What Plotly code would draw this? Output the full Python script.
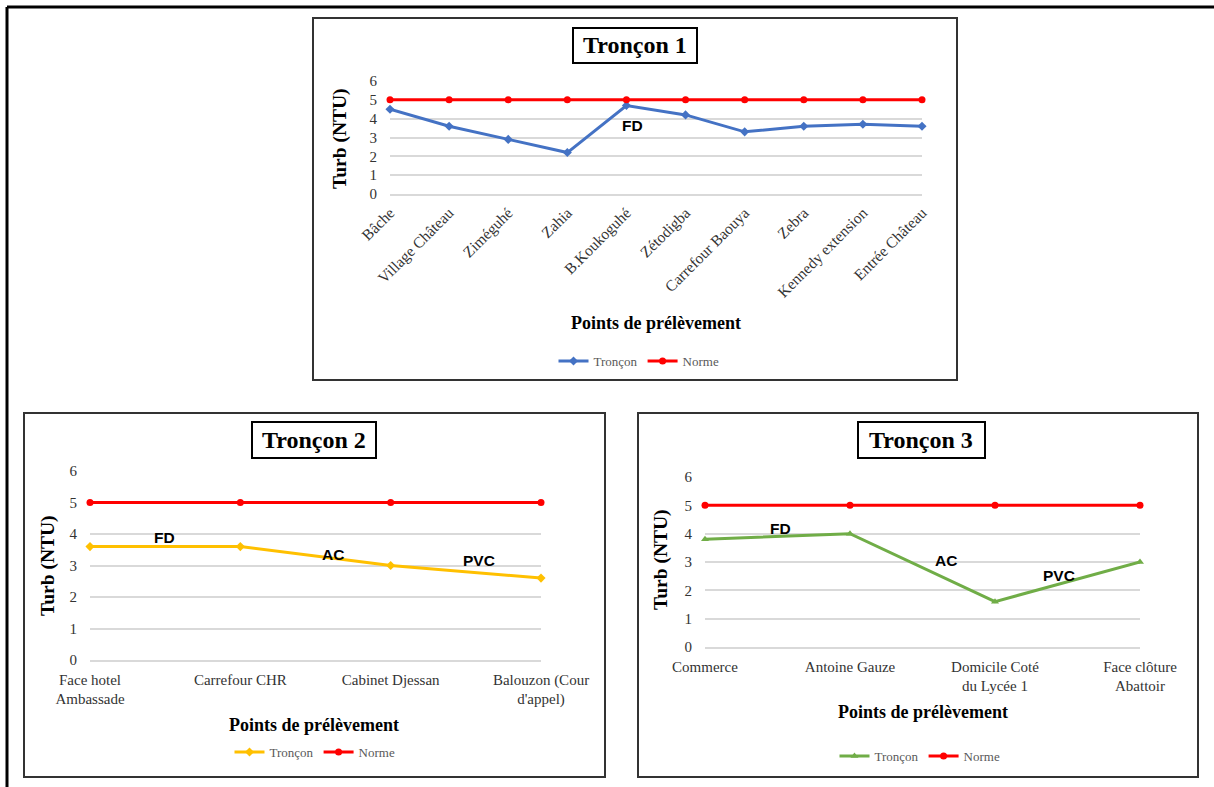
import plotly.graph_objects as go

W, H = 1214, 787

# ---------------- data ----------------
t1_points = ["Bâche", "Village Château", "Ziméguhé", "Zahia", "B.Koukoguhé",
             "Zétodigba", "Carrefour Baouya", "Zebra", "Kennedy extension", "Entrée Château"]
t1_turb = [4.5, 3.6, 2.9, 2.2, 4.7, 4.2, 3.3, 3.6, 3.7, 3.6]
t1_norme = [5, 5, 5, 5, 5, 5, 5, 5, 5, 5]

t2_points = ["Face hotel<br>Ambassade", "Carrefour CHR", "Cabinet Djessan", "Balouzon (Cour<br>d'appel)"]
t2_turb = [3.6, 3.6, 3.0, 2.6]
t2_norme = [5, 5, 5, 5]

t3_points = ["Commerce", "Antoine Gauze", "Domicile Coté<br>du Lycée 1", "Face clôture<br>Abattoir"]
t3_turb = [3.8, 4.0, 1.6, 3.0]
t3_norme = [5, 5, 5, 5]

y_ticks = [0, 1, 2, 3, 4, 5, 6]
titles = ["Tronçon 1", "Tronçon 2", "Tronçon 3"]
x_title = "Points de prélèvement"
y_title = "Turb (NTU)"
legend_names = ["Tronçon", "Norme"]

# ---------------- helpers ----------------
def px(x):
    return x / W

def py(y):
    return 1 - y / H

SERIF = "Liberation Serif, Times New Roman, serif"
SANS = "Liberation Sans, Arial, sans-serif"
RED = "#FF0000"
BLUE = "#4472C4"
YELLOW = "#FFC000"
GREEN = "#70AD47"

fig = go.Figure()

charts = [
    dict(pts=t1_points, turb=t1_turb, norme=t1_norme, color=BLUE, sym="diamond",
         xd=[px(390), px(922)], yd=[py(194), py(81)], leg="legend", xax="x", yax="y",
         tickangle=-45, tickfont=15.5, xstand=2, ystand=12),
    dict(pts=t2_points, turb=t2_turb, norme=t2_norme, color=YELLOW, sym="diamond",
         xd=[px(90), px(541)], yd=[py(660), py(471)], leg="legend2", xax="x2", yax="y2",
         tickangle=0, tickfont=15, xstand=5, ystand=12),
    dict(pts=t3_points, turb=t3_turb, norme=t3_norme, color=GREEN, sym="triangle-up",
         xd=[px(705), px(1140)], yd=[py(647), py(477)], leg="legend3", xax="x3", yax="y3",
         tickangle=0, tickfont=15, xstand=5, ystand=12),
]

for i, c in enumerate(charts):
    fig.add_trace(go.Scatter(
        x=c["pts"], y=c["turb"], name=legend_names[0], mode="lines+markers",
        line=dict(color=c["color"], width=3), marker=dict(symbol=c["sym"], size=7, color=c["color"]),
        xaxis=c["xax"], yaxis=c["yax"], legend=c["leg"], cliponaxis=False))
    fig.add_trace(go.Scatter(
        x=c["pts"], y=c["norme"], name=legend_names[1], mode="lines+markers",
        line=dict(color=RED, width=3), marker=dict(symbol="circle", size=7, color=RED),
        xaxis=c["xax"], yaxis=c["yax"], legend=c["leg"], cliponaxis=False))
    sfx = "" if i == 0 else str(i + 1)
    fig.layout["xaxis" + sfx] = dict(
        domain=c["xd"], anchor="y" + sfx, type="category", automargin=False,
        range=[0, len(c["pts"]) - 1], showgrid=False, showline=True,
        linecolor="#d9d9d9", linewidth=1.5, ticks="", tickangle=c["tickangle"],
        ticklabelstandoff=c["xstand"],
        tickfont=dict(family=SERIF, size=c["tickfont"], color="#333333"), fixedrange=True)
    fig.layout["yaxis" + sfx] = dict(
        domain=c["yd"], anchor="x" + sfx, range=[0, 6], tickvals=y_ticks, automargin=False,
        showgrid=True, gridcolor="#d9d9d9", gridwidth=1.5, zeroline=False, showline=False,
        ticks="", ticklabelstandoff=c["ystand"],
        tickfont=dict(family=SERIF, size=15, color="#333333"), fixedrange=True)

# legends
leg_common = dict(orientation="h", xanchor="center", yanchor="middle", bgcolor="rgba(0,0,0,0)",
                  font=dict(family=SERIF, size=13, color="#595959"), itemwidth=30,
                  tracegroupgap=0)
fig.update_layout(
    legend=dict(x=px(639), y=py(361), **leg_common),
    legend2=dict(x=px(315), y=py(752), **leg_common),
    legend3=dict(x=px(920), y=py(756), **leg_common),
)

annotations = []
# chart titles in boxes
title_pos = [(635, 45), (314, 440), (921, 440)]
for t, (x, y) in zip(titles, title_pos):
    annotations.append(dict(text="<b>%s</b>" % t, x=px(x), y=py(y), xref="paper", yref="paper",
                            showarrow=False, font=dict(family=SERIF, size=24, color="black"),
                            xanchor="center", yanchor="middle"))
# y titles
for (x, y) in [(340, 139), (48, 565), (661, 560)]:
    annotations.append(dict(text="<b>%s</b>" % y_title, x=px(x), y=py(y), xref="paper", yref="paper",
                            showarrow=False, textangle=-90,
                            font=dict(family=SERIF, size=19.5, color="black"),
                            xanchor="center", yanchor="middle"))
# x titles
for (x, y) in [(656, 323), (314, 725), (923, 712)]:
    annotations.append(dict(text="<b>%s</b>" % x_title, x=px(x), y=py(y), xref="paper", yref="paper",
                            showarrow=False, font=dict(family=SERIF, size=18, color="black"),
                            xanchor="center", yanchor="middle"))
# pipe material labels
mat = [("FD", 632, 126), ("FD", 164, 537), ("AC", 333, 554), ("PVC", 479, 560),
       ("FD", 780, 528), ("AC", 946, 560), ("PVC", 1059, 575)]
for t, x, y in mat:
    annotations.append(dict(text="<b>%s</b>" % t, x=px(x), y=py(y), xref="paper", yref="paper",
                            showarrow=False, font=dict(family=SANS, size=15.5, color="black"),
                            xanchor="center", yanchor="middle"))

shapes = []
def rect(x0, y0, x1, y1, w=2, col="#333333"):
    shapes.append(dict(type="rect", xref="paper", yref="paper", x0=px(x0), x1=px(x1),
                       y0=py(y1), y1=py(y0), line=dict(color=col, width=w), fillcolor="rgba(0,0,0,0)"))

# chart frames
rect(313, 18, 957, 380)
rect(24, 413, 605, 777)
rect(638, 413, 1198, 777)
# title boxes
rect(573, 28, 697, 63, w=2, col="black")
rect(252, 422, 376, 458, w=2, col="black")
rect(858, 422, 985, 458, w=2, col="black")
# outer frame (left & top)
shapes.append(dict(type="line", xref="paper", yref="paper", x0=px(7), x1=px(7), y0=py(787), y1=py(7),
                   line=dict(color="black", width=3)))
shapes.append(dict(type="line", xref="paper", yref="paper", x0=px(7), x1=px(1214), y0=py(7), y1=py(7),
                   line=dict(color="black", width=3)))

fig.update_layout(
    width=W, height=H, margin=dict(l=0, r=0, t=0, b=0, pad=0, autoexpand=False),
    paper_bgcolor="white", plot_bgcolor="white",
    annotations=annotations, shapes=shapes, showlegend=True,
)

fig.write_html("out.html", config={"displayModeBar": False},
               post_script="document.body.style.margin='0';document.body.style.overflow='hidden';")
